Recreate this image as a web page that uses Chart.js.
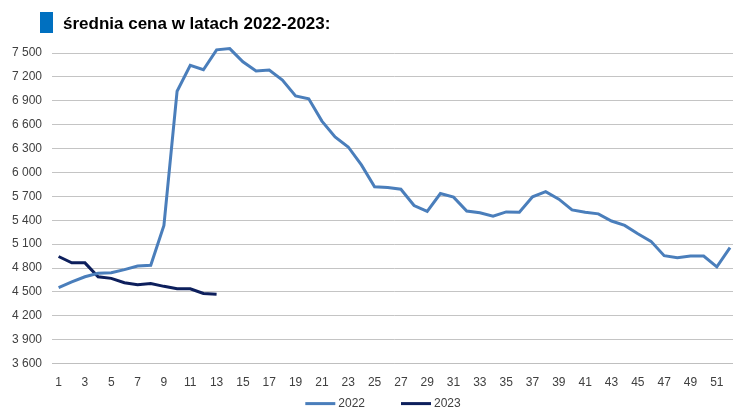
<!DOCTYPE html>
<html>
<head>
<meta charset="utf-8">
<script src="https://cdn.jsdelivr.net/npm/chart.js@4.4.1/dist/chart.umd.min.js"></script>
<style>
  html, body { margin: 0; padding: 0; background: #fff; overflow: hidden; width: 733px; height: 407px; }
  #wrap { position: relative; width: 733px; height: 407px; overflow: hidden; }
  #tytul { position: absolute; left: 40px; top: 12px; height: 21px; display: flex; align-items: center;
           font: bold 17px "Liberation Sans", Arial, sans-serif; color: #000; white-space: nowrap; }
  #tytul .kw { width: 13px; height: 21px; background: #0070c0; margin-right: 10px; }
  #tytul span + span { position: relative; top: 1px; }
  #wykres { position: absolute; left: 0; top: 0; }
</style>
</head>
<body>
<div id="wrap">
  <canvas id="wykres" width="742" height="407"></canvas>
  <div id="tytul"><span class="kw"></span><span>średnia cena w latach 2022-2023:</span></div>
</div>
<script>
// tygodnie roku
const tygodnie = [1, 2, 3, 4, 5, 6, 7, 8, 9, 10, 11, 12, 13, 14, 15, 16, 17, 18, 19, 20,
    21, 22, 23, 24, 25, 26, 27, 28, 29, 30, 31, 32, 33, 34, 35, 36, 37, 38, 39, 40,
    41, 42, 43, 44, 45, 46, 47, 48, 49, 50, 51, 52];

// średnia cena - 2022
const cena2022 = [4555, 4625, 4690, 4735, 4740, 4780, 4825, 4835, 5335, 7020,
    7345, 7290, 7540, 7555, 7390, 7275, 7285, 7160, 6960, 6925,
    6645, 6445, 6320, 6095, 5820, 5810, 5790, 5585, 5510, 5735,
    5690, 5515, 5495, 5450, 5505, 5500, 5695, 5760, 5665, 5530,
    5500, 5480, 5390, 5335, 5230, 5135, 4955, 4930, 4950, 4950,
    4815, 5055];

// średnia cena - 2023 (dotychczas)
const cena2023 = [4945, 4865, 4865, 4690, 4670, 4615, 4590, 4605, 4570, 4540, 4540, 4480, 4470];

const serie = ["2022", "2023"];
const kolory = ["#4a7ebb", "#0d1f5c"];

const yMin = 3600;
const yMax = 7500;
const yKrok = 300;

// "7 500" - spacja jako separator tysięcy
function formatuj(v) {
    return String(v).replace(/\B(?=(\d{3})+(?!\d))/g, " ");
}

// własna legenda pod osią X (linia + tekst)
const legendaPlugin = {
    id: "legenda",
    afterDraw(chart) {
        const ctx = chart.ctx;
        const area = chart.chartArea;
        const y = area.bottom + 40;
        ctx.save();
        ctx.font = "12px 'Liberation Sans', Arial, sans-serif";
        ctx.textBaseline = "middle";
        const dl = 30, odst = 3, przerwa = 36;
        const szer = chart.data.datasets.map(ds => dl + odst + ctx.measureText(ds.label).width);
        const suma = szer.reduce((a, b) => a + b, 0) + przerwa * (szer.length - 1);
        let x = chart.width / 2 + 12 - suma / 2;
        chart.data.datasets.forEach((ds, i) => {
            ctx.strokeStyle = ds.borderColor;
            ctx.lineWidth = 3;
            ctx.beginPath();
            ctx.moveTo(x, y);
            ctx.lineTo(x + dl, y);
            ctx.stroke();
            ctx.fillStyle = "#404040";
            ctx.fillText(ds.label, x + dl + odst, y);
            x += szer[i] + przerwa;
        });
        ctx.restore();
    }
};

const ctx = document.getElementById("wykres").getContext("2d");
new Chart(ctx, {
    type: "line",
    data: {
        labels: tygodnie,
        datasets: [
            { label: serie[0], data: cena2022, borderColor: kolory[0], backgroundColor: kolory[0],
              borderWidth: 3, pointRadius: 0, tension: 0, clip: false },
            { label: serie[1], data: cena2023, borderColor: kolory[1], backgroundColor: kolory[1],
              borderWidth: 3, pointRadius: 0, tension: 0, clip: false }
        ]
    },
    options: {
        responsive: false,
        animation: false,
        layout: { padding: { top: 53, left: 2, right: 0, bottom: 5 } },
        plugins: {
            legend: { display: false },
            tooltip: { enabled: false },
            title: { display: false }
        },
        scales: {
            x: {
                offset: true,
                grid: { display: false, drawTicks: false },
                border: { display: true, color: "#bfbfbf", width: 1 },
                ticks: {
                    autoSkip: false,
                    maxRotation: 0,
                    padding: 12,
                    color: "#404040",
                    font: { family: "'Liberation Sans', Arial, sans-serif", size: 12 },
                    callback: function (val, i) { return i % 2 === 0 ? this.getLabelForValue(val) : ""; }
                }
            },
            y: {
                min: yMin,
                max: yMax,
                grid: { color: "#c4c4c4", lineWidth: 1, drawTicks: false },
                border: { display: false },
                ticks: {
                    stepSize: yKrok,
                    padding: 10,
                    color: "#404040",
                    font: { family: "'Liberation Sans', Arial, sans-serif", size: 12 },
                    callback: v => formatuj(v)
                }
            }
        }
    },
    plugins: [legendaPlugin]
});
</script>
</body>
</html>
